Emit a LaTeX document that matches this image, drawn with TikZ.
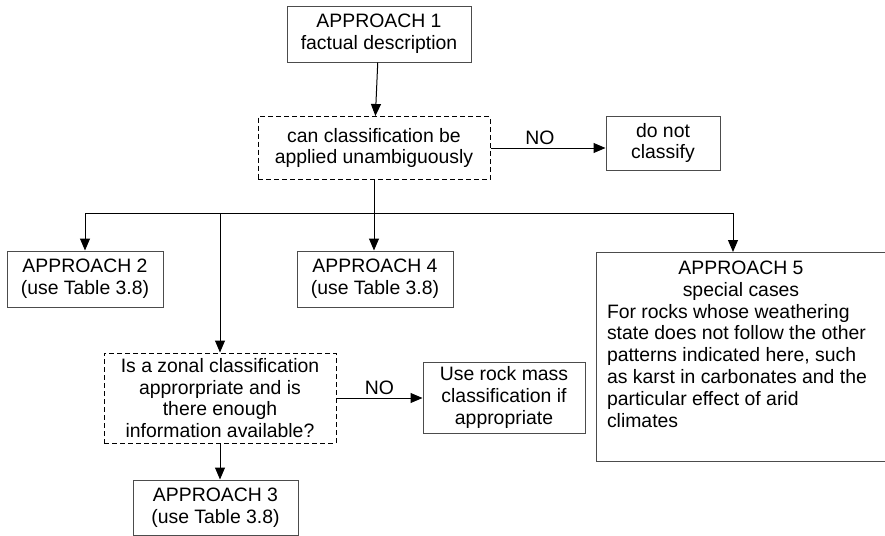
\documentclass[tikz,border=0pt]{standalone}
\usepackage{fontspec}
\setmainfont{Liberation Sans}
\usetikzlibrary{arrows.meta}

\begin{document}
\begin{tikzpicture}[x=0.5pt, y=-0.5pt,
    font=\fontsize{9.7}{10.9}\selectfont,
    box/.style={draw=black!70, line width=0.5pt, align=center, inner sep=0pt},
    query/.style={draw=black, line width=0.5pt, dash pattern=on 2.5pt off 1.5pt, align=center, inner sep=0pt},
    flow/.style={line width=0.5pt, -{Triangle[length=6pt, width=5pt]}},
    answer/.style={above, inner sep=1.5pt}]
    \useasboundingbox (0,0) rectangle (885,536);

    % Top of the chart
    \node[box, minimum width=92pt, minimum height=28pt] (app1) at (379,34) {APPROACH 1\\factual description};
    \node[query, minimum width=116pt, minimum height=31.5pt] (check1) at (374,148) {can classification be\\applied unambiguously};
    \node[box, minimum width=57pt, minimum height=27pt] (noclass) at (663,143) {do not\\classify};

    % Second row
    \node[box, minimum width=78pt, minimum height=28pt] (app2) at (85,279) {APPROACH 2\\(use Table 3.8)};
    \node[box, minimum width=78pt, minimum height=28pt] (app4) at (375,279) {APPROACH 4\\(use Table 3.8)};
    \node[box, anchor=north west, minimum width=144.5pt, minimum height=104.5pt] (app5) at (596,252)
        {\parbox[c][96pt][t]{134pt}{\centering APPROACH 5\\special cases\par\raggedright
        For rocks whose weathering\\state does not follow the other\\patterns indicated here, such\\as karst in carbonates and the\\particular effect of arid\\climates}};

    % Zonal branch
    \node[query, minimum width=116pt, minimum height=45pt] (check2) at (220,398) {Is a zonal classification\\approrpriate and is\\there enough\\information available?};
    \node[box, minimum width=81pt, minimum height=35.5pt] (rockmass) at (504,397.5) {Use rock mass\\classification if\\appropriate};
    \node[box, minimum width=82.5pt, minimum height=27.5pt] (app3) at (215.5,507.5) {APPROACH 3\\(use Table 3.8)};

    % Connectors
    \coordinate (bus) at (374,213);
    \draw[flow] (app1) -- (check1);
    \draw[flow] (check1.east) -- node[answer, pos=0.43] {NO} (noclass.west |- check1.east);
    \draw[line width=0.5pt] (check1.south) -- (bus);
    \draw[flow] (bus) -| (app2.north);
    \draw[flow] (bus) -- (bus |- app4.north);
    \draw[flow] (bus) -| ([xshift=-4pt]app5.north);
    \draw[flow] (bus -| check2.north) -- (check2.north);
    \draw[flow] (check2.east) -- node[answer] {NO} (rockmass.west |- check2.east);
    \draw[flow] (check2.south) -- (check2.south |- app3.north);
\end{tikzpicture}
\end{document}
